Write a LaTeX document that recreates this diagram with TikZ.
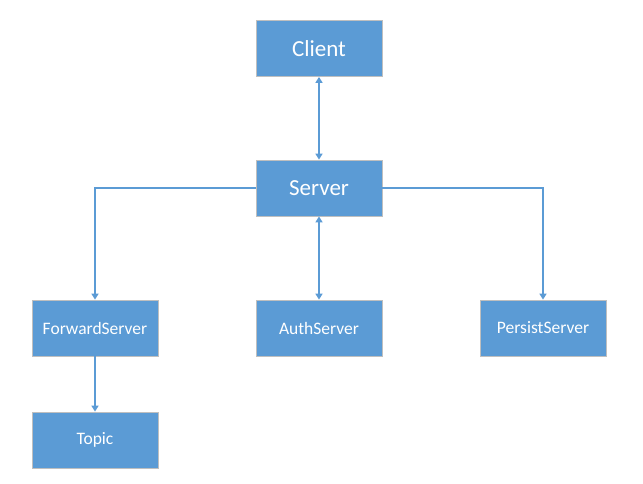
\documentclass[tikz,border=0pt]{standalone}
\usepackage{fontspec}
\setmainfont{Carlito}
\usetikzlibrary{arrows.meta}
\definecolor{boxblue}{HTML}{5B9BD5}
\definecolor{boxedge}{HTML}{BFBFBF}
\begin{document}
\begin{tikzpicture}[x=1pt,y=-1pt,
  box/.style={draw=boxedge,line width=0.8pt,fill=boxblue,minimum width=126pt,minimum height=56pt,inner sep=0pt,text=white,font=\fontsize{17.5}{20}\selectfont},
  bigbox/.style={box,font=\fontsize{23}{26}\selectfont},
  conn/.style={draw=boxblue,line width=2pt,-{Triangle[length=6pt,width=7pt]}},
  biconn/.style={draw=boxblue,line width=2pt,{Triangle[length=6pt,width=7pt]}-{Triangle[length=6pt,width=7pt]}}]
\useasboundingbox (0,0) rectangle (643,483);
\fill[white] (0,0) rectangle (643,483);
\node[bigbox] (client) at (319,48.5) {Client};
\node[bigbox] (server) at (319,188) {Server};
\node[box] (fwd) at (95,328) {ForwardServer};
\node[box] (auth) at (319,328) {AuthServer};
\node[box] (persist) at (543,328) {PersistServer};
\node[box] (topic) at (95,440) {Topic};
\draw[biconn] (client) -- (server);
\draw[biconn] (server) -- (auth);
\draw[conn] (server.west) -| (fwd.north);
\draw[conn] (server.east) -| (persist.north);
\draw[conn] (fwd) -- (topic);
\end{tikzpicture}
\end{document}
